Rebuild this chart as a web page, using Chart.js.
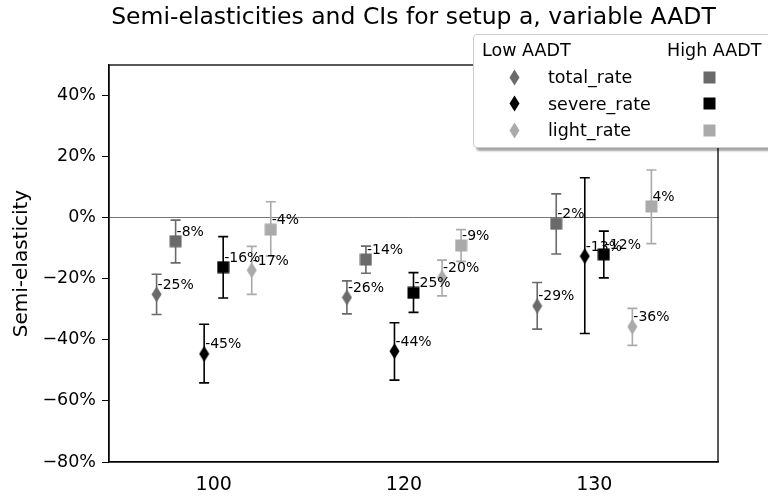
<!DOCTYPE html>
<html>
<head>
<meta charset="utf-8">
<script src="https://cdn.jsdelivr.net/npm/chart.js@4.4.0/dist/chart.umd.min.js"></script>
<style>
body { margin: 0; background: #fff; overflow: hidden; font-family: 'DejaVu Sans', sans-serif; }
#wrap { position: relative; width: 768px; height: 498px; overflow: hidden; }
#legend { position: absolute; left: 473px; top: 34px; width: 310px; height: 114px; background: #fff;
          border: 1px solid #ccc; border-radius: 4px; box-shadow: 3px 3px 2px rgba(0,0,0,0.35); box-sizing: border-box; }
.lg { position: absolute; font-size: 17.5px; line-height: 20px; color: #000; white-space: nowrap; }
.mk { position: absolute; }
</style>
</head>
<body>
<div id="wrap">
  <canvas id="chart" width="768" height="498"></canvas>
  <div id="legend"></div>
</div>
<script>
const categories = ['100', '120', '130'];
const seriesNames = ['total_rate', 'severe_rate', 'light_rate'];
const seriesColors = ['#6a6a6a', '#000000', '#aaaaaa'];
const yTicks = [-80, -60, -40, -20, 0, 20, 40];

// Low AADT (diamonds), values in percent
const lowTotal = [-25.1, -26.1, -28.9];
const lowTotalLo = [-31.7, -31.5, -36.5];
const lowTotalHi = [-18.5, -20.7, -21.2];
const lowSevere = [-44.6, -43.7, -12.6];
const lowSevereLo = [-54.1, -53.2, -37.9];
const lowSevereHi = [-34.9, -34.4, 13.1];
const lowLight = [-17.2, -19.6, -35.7];
const lowLightLo = [-25.1, -25.6, -41.8];
const lowLightHi = [-9.4, -13.9, -29.7];

// High AADT (squares)
const highTotal = [-7.7, -13.7, -2.0];
const highTotalLo = [-14.8, -18.2, -11.9];
const highTotalHi = [-0.8, -9.3, 7.8];
const highSevere = [-16.2, -24.6, -12.0];
const highSevereLo = [-26.3, -31.0, -19.7];
const highSevereHi = [-6.2, -18.0, -4.4];
const highLight = [-3.9, -9.1, 3.7];
const highLightLo = [-12.6, -14.3, -8.5];
const highLightHi = [5.2, -3.9, 15.6];

const lowSets = [[lowTotal, lowTotalLo, lowTotalHi], [lowSevere, lowSevereLo, lowSevereHi], [lowLight, lowLightLo, lowLightHi]];
const highSets = [[highTotal, highTotalLo, highTotalHi], [highSevere, highSevereLo, highSevereHi], [highLight, highLightLo, highLightHi]];

const FONT = 'DejaVu Sans';

function makeMarker(shape, color) {
    const c = document.createElement('canvas');
    const g = c.getContext('2d');
    if (shape === 'diamond') {
        c.width = 11; c.height = 17;
        g.fillStyle = color;
        g.beginPath();
        g.moveTo(5.5, 0.5);
        g.lineTo(10.5, 8.5);
        g.lineTo(5.5, 16.5);
        g.lineTo(0.5, 8.5);
        g.closePath();
        g.fill();
    } else {
        c.width = 13; c.height = 13;
        g.fillStyle = color;
        g.fillRect(0.5, 0.5, 12, 12);
    }
    return c;
}

function buildPoints(set, offset) {
    const [vals, lo, hi] = set;
    return vals.map((v, i) => ({ x: i + offset, y: v, lo: lo[i], hi: hi[i] }));
}

const datasets = [];
seriesNames.forEach((name, k) => {
    const group = (k - 1) * 0.25;
    datasets.push({
        label: name + ' low',
        data: buildPoints(lowSets[k], group - 0.05),
        pointStyle: makeMarker('diamond', seriesColors[k]),
        color: seriesColors[k],
        pointRadius: 6
    });
    datasets.push({
        label: name + ' high',
        data: buildPoints(highSets[k], group + 0.05),
        pointStyle: makeMarker('square', seriesColors[k]),
        color: seriesColors[k],
        pointRadius: 6
    });
});

const errorBars = {
    id: 'errorBars',
    beforeDatasetsDraw(chart) {
        const ctx = chart.ctx;
        const xs = chart.scales.x, ys = chart.scales.y;
        const a = chart.chartArea;
        // frame
        ctx.save();
        ctx.strokeStyle = '#000';
        ctx.lineWidth = 1.3;
        ctx.strokeRect(a.left, a.top, a.right - a.left, a.bottom - a.top);
        chart.data.datasets.forEach(ds => {
            ctx.strokeStyle = ds.color;
            ctx.lineWidth = 1.6;
            ds.data.forEach(p => {
                const px = xs.getPixelForValue(p.x);
                const top = ys.getPixelForValue(p.hi);
                const bot = ys.getPixelForValue(p.lo);
                ctx.beginPath();
                ctx.moveTo(px, top); ctx.lineTo(px, bot);
                ctx.moveTo(px - 5, top); ctx.lineTo(px + 5, top);
                ctx.moveTo(px - 5, bot); ctx.lineTo(px + 5, bot);
                ctx.stroke();
            });
        });
        ctx.restore();
    },
    afterDatasetsDraw(chart) {
        const ctx = chart.ctx;
        const xs = chart.scales.x, ys = chart.scales.y;
        ctx.save();
        ctx.fillStyle = '#000';
        ctx.font = '14px "' + FONT + '"';
        ctx.textAlign = 'left';
        ctx.textBaseline = 'alphabetic';
        chart.data.datasets.forEach(ds => {
            ds.data.forEach(p => {
                const px = xs.getPixelForValue(p.x);
                const py = ys.getPixelForValue(p.y);
                ctx.fillText(Math.round(p.y) + '%', px + 1, py - 5.5);
            });
        });
        ctx.restore();
    }
};

new Chart(document.getElementById('chart'), {
    type: 'scatter',
    data: { datasets: datasets },
    plugins: [errorBars],
    options: {
        responsive: false,
        animation: false,
        devicePixelRatio: 1,
        layout: { padding: { top: 0, right: 50, bottom: 0, left: 0 } },
        plugins: {
            legend: { display: false },
            tooltip: { enabled: false },
            title: {
                display: true,
                fullSize: false,
                text: 'Semi-elasticities and CIs for setup a, variable AADT',
                color: '#000',
                font: { family: FONT, size: 23.5, weight: 'normal' },
                padding: { top: 4, bottom: 32.8 }
            }
        },
        scales: {
            x: {
                type: 'linear',
                min: -0.55,
                max: 2.65,
                afterBuildTicks: s => { s.ticks = categories.map((c, i) => ({ value: i })); },
                afterFit: s => { s.height = 36; },
                ticks: {
                    color: '#000',
                    font: { family: FONT, size: 19 },
                    padding: 12,
                    callback: v => categories[v]
                },
                grid: { display: false, drawTicks: false },
                border: { display: true, color: '#000', width: 1.3 }
            },
            y: {
                min: -80,
                max: 50,
                afterBuildTicks: s => { s.ticks = yTicks.map(v => ({ value: v })); },
                afterFit: s => { s.width = 109; },
                ticks: {
                    color: '#000',
                    font: { family: FONT, size: 17.5 },
                    padding: 6,
                    callback: v => (v < 0 ? '\u2212' + Math.abs(v) : v) + '%'
                },
                grid: {
                    drawTicks: true,
                    tickLength: 7,
                    tickColor: '#000',
                    lineWidth: 1,
                    color: ctx => (ctx.tick && ctx.tick.value === 0 ? '#777' : 'rgba(0,0,0,0)')
                },
                border: { display: true, color: '#000', width: 1.3 },
                title: {
                    display: true,
                    text: 'Semi-elasticity',
                    color: '#000',
                    font: { family: FONT, size: 20 },
                    padding: { top: 10, bottom: 0 }
                }
            }
        }
    }
});

// legend: two columns, Low AADT (diamonds) and High AADT (squares)
const legend = document.getElementById('legend');
function addText(text, left, cy) {
    const d = document.createElement('div');
    d.className = 'lg';
    d.textContent = text;
    d.style.left = left + 'px';
    d.style.top = (cy - 10) + 'px';
    legend.appendChild(d);
}
function addMarker(shape, color, cx, cy) {
    const m = makeMarker(shape, color);
    m.className = 'mk';
    m.style.left = (cx - m.width / 2) + 'px';
    m.style.top = (cy - m.height / 2) + 'px';
    legend.appendChild(m);
}
addText('Low AADT', 8, 15);
addText('High AADT', 193, 15);
seriesNames.forEach((name, k) => {
    const cy = 42 + k * 26.5;
    addMarker('diamond', seriesColors[k], 40, cy);
    addText(name, 74, cy);
    addMarker('square', seriesColors[k], 235, cy);
});
</script>
</body>
</html>
